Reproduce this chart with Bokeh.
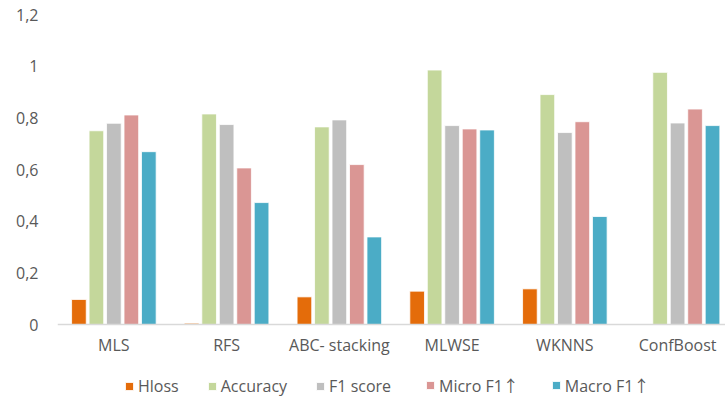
from bokeh.plotting import figure
from bokeh.models import ColumnDataSource, FixedTicker, Legend, LegendItem, Range1d, Span
from bokeh.core.properties import value
from bokeh.embed import file_html
from bokeh.resources import INLINE

methods = ["MLS", "RFS", "ABC- stacking", "MLWSE", "WKNNS", "ConfBoost"]
series_names = ["Hloss", "Accuracy", "F1 score", "Micro F1\u2191", "Macro F1\u2191"]
hloss = [0.097, 0.005, 0.107, 0.129, 0.138, 0.0]
accuracy = [0.750, 0.815, 0.765, 0.985, 0.890, 0.976]
f1_score = [0.779, 0.774, 0.792, 0.770, 0.743, 0.780]
micro_f1 = [0.811, 0.606, 0.619, 0.757, 0.785, 0.834]
macro_f1 = [0.669, 0.472, 0.339, 0.753, 0.418, 0.770]
colors = ["#E46C0A", "#C4D79B", "#BFBFBF", "#DA9694", "#4BACC6"]
y_ticks = [0, 0.2, 0.4, 0.6, 0.8, 1.0, 1.2]
y_tick_labels = ["0", "0,2", "0,4", "0,6", "0,8", "1", "1,2"]

series = [hloss, accuracy, f1_score, micro_f1, macro_f1]
FONT = "'Open Sans', 'Noto Sans CJK SC'"
TEXT = "#595959"
FS = "16px"

# the frame reaches the bottom edge so the category row and legend fit inside it
p = figure(width=725, height=396, output_backend="svg", toolbar_location=None,
           x_range=Range1d(-0.5, 5.425), y_range=Range1d(-0.2787, 1.2),
           min_border_left=57, min_border_right=0, min_border_top=14,
           min_border_bottom=0, outline_line_color=None)
p.background_fill_color = "white"
p.border_fill_color = "white"
p.xaxis.visible = False
p.xgrid.visible = False
p.ygrid.visible = False

pitch = 0.155
bar_w = 0.13
items = []
for i, (name, vals, col) in enumerate(zip(series_names, series, colors)):
    xs = [k + (i - 2) * pitch for k in range(len(methods))]
    src = ColumnDataSource(dict(x=xs, top=vals))
    r = p.vbar(x="x", top="top", width=bar_w, bottom=0, source=src,
               fill_color=col, line_color="white", line_width=0.8)
    items.append(LegendItem(label=name, renderers=[r]))

# baseline
p.add_layout(Span(location=0, dimension="width", line_color="#D9D9D9",
                  line_width=1.5))

# category labels under the baseline
cat_src = ColumnDataSource(dict(x=list(range(len(methods))),
                                y=[0] * len(methods), label=methods))
p.text(x="x", y="y", text="label", source=cat_src, y_offset=20,
       text_align="center", text_baseline="middle",
       text_font=value(FONT), text_font_size=FS, text_color=TEXT)

ya = p.yaxis[0]
ya.ticker = FixedTicker(ticks=y_ticks)
ya.major_label_overrides = {t: l for t, l in zip(y_ticks, y_tick_labels)}
ya.major_tick_line_color = None
ya.minor_tick_line_color = None
ya.major_tick_out = 0
ya.major_tick_in = 0
ya.axis_line_color = None
ya.major_label_text_font = FONT
ya.major_label_text_font_size = FS
ya.major_label_text_color = TEXT
ya.major_label_standoff = 19

legend_style = dict(orientation="horizontal", label_text_font=FONT,
                    label_text_font_size=FS, label_text_color=TEXT,
                    glyph_width=10, glyph_height=10, label_standoff=4,
                    padding=0, margin=0, border_line_color=None,
                    background_fill_alpha=0, label_height=14)
# legend row, in two parts so the arrow labels keep their spacing
p.add_layout(Legend(items=items[:3], location=(67, -1), spacing=28,
                    **legend_style), "center")
p.add_layout(Legend(items=items[3:], location=(368, -1), spacing=32,
                    **legend_style), "center")

open("out.html", "w").write(file_html(p, INLINE))
